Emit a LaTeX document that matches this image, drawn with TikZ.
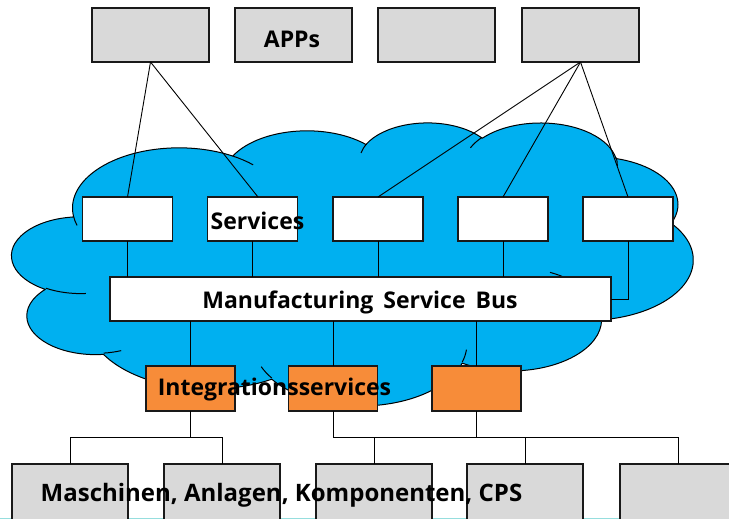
\documentclass[tikz,border=0pt]{standalone}
\usepackage{fontspec}
\setmainfont{Open Sans}
\usetikzlibrary{calc}

\definecolor{cloudblue}{RGB}{0,176,240}
\definecolor{boxgray}{RGB}{217,217,217}
\definecolor{boxorange}{RGB}{247,140,57}
\definecolor{edgeteal}{RGB}{150,222,222}

% one elliptic arc of the cloud outline: x radius, y radius,
% start angle and sweep (angles measured as seen, converted to parametric)
\newcommand\cloudarc[4]{%
  \pgfmathsetmacro\cAs{atan2((#1)*sin(#3),(#2)*cos(#3))}%
  \pgfmathsetmacro\cAe{atan2((#1)*sin((#3)+(#4)),(#2)*cos((#3)+(#4)))}%
  \pgfmathsetmacro\cAd{mod(\cAe-\cAs+720,360)}%
  \pgfmathsetmacro\cAe{\cAs+\cAd}%
  \pgfpatharcaxes{\cAs}{\cAe}{\pgfpointxy{#1}{0}}{\pgfpointxy{0}{#2}}%
}
\newcommand\cloudstub[6]{%
  \pgfpathmoveto{\pgfpointxy{#1}{#2}}\cloudarc{#3}{#4}{#5}{#6}\pgfusepath{stroke}%
}
% wider gaps between words
\newcommand\widewords{\spaceskip=10pt\relax}

\tikzset{
  box/.style={draw=black!90, line width=1.1pt, inner sep=0pt, outer sep=0pt},
  appbox/.style={box, fill=boxgray, minimum width=117pt, minimum height=54pt},
  servicebox/.style={box, fill=white, minimum width=90pt, minimum height=44pt},
  busbox/.style={box, fill=white, minimum width=501pt, minimum height=44pt},
  intbox/.style={box, fill=boxorange, minimum width=89pt, minimum height=45pt},
  devbox/.style={box, fill=boxgray, minimum width=116pt, minimum height=60pt},
  link/.style={draw=black, line width=0.9pt},
  lbl/.style={font=\bfseries\fontsize{23}{23}\selectfont, inner sep=0pt, outer sep=0pt, anchor=base},
  biglbl/.style={lbl, font=\bfseries\fontsize{24}{24}\selectfont}
}

\begin{document}
\begin{tikzpicture}[x=1pt, y=-1pt]
\useasboundingbox (0,0) rectangle (729,519);
\clip (0,0) rectangle (729,519);

% cloud
\begin{scope}[shift={(12,122)}, x=1.576389pt, y=-0.655093pt]
  \pgfsetlinewidth{1pt}
  \pgfsetroundjoin
  \pgfsetfillcolor{cloudblue}
  \pgfsetstrokecolor{black}
  \pgfpathmoveto{\pgfpointxy{39.00}{143.70}}
  \cloudarc{67.53}{91.90}{-190.48748}{123.78053}
  \cloudarc{53.33}{72.67}{-144.10238}{89.94523}
  \cloudarc{43.65}{59.45}{-145.80792}{99.72302}
  \cloudarc{48.57}{65.95}{-130.98607}{117.24173}
  \cloudarc{53.33}{72.73}{-78.70888}{109.02692}
  \cloudarc{67.75}{92.20}{-46.26725}{130.26900}
  \cloudarc{57.85}{78.67}{0.62502}{114.03333}
  \cloudarc{67.52}{92.15}{22.45160}{115.17255}
  \cloudarc{77.20}{105.43}{66.24263}{75.71102}
  \cloudarc{43.60}{59.18}{-274.94208}{146.73557}
  \cloudarc{43.45}{59.45}{-246.82850}{152.51885}
  \pgfpathclose
  \pgfusepath{fill,stroke}
  \cloudstub{46.93}{261.77}{43.45}{59.45}{86.74200}{26.42950}
  \cloudstub{69.28}{348.99}{43.60}{59.18}{73.61047}{11.44747}
  \cloudstub{164.78}{390.90}{67.52}{92.15}{137.62415}{14.08110}
  \cloudstub{288.27}{347.51}{67.53}{91.90}{6.45327}{15.99835}
  \cloudstub{341.29}{229.54}{57.85}{78.67}{-70.29235}{70.91737}
  \cloudstub{417.98}{153.54}{53.33}{72.73}{30.31803}{27.75150}
  \cloudstub{383.24}{54.26}{48.57}{65.95}{-13.74433}{14.85890}
  \cloudstub{290.78}{39.52}{48.57}{65.95}{-149.18145}{18.19537}
  \cloudstub{221.41}{47.20}{43.65}{59.45}{-163.49427}{17.68635}
  \cloudstub{140.00}{51.92}{67.53}{91.90}{-66.70695}{12.31935}
  \cloudstub{41.27}{157.89}{67.53}{91.90}{157.65435}{11.85817}
\end{scope}

% thin line along the lower edge
\coordinate (edgeL) at (0,518);
\coordinate (edgeR) at (729,518);
\draw[edgeteal, line width=1pt] (edgeL) -- (edgeR);

% apps
\node[appbox] (a1) at (150.5,35) {};
\node[appbox] (a2) at (293.5,35) {};
\node[appbox] (a3) at (436.5,35) {};
\node[appbox] (a4) at (580.5,35) {};

% services
\node[servicebox] (s1) at (127.5,219) {};
\node[servicebox] (s2) at (252.5,219) {};
\node[servicebox] (s3) at (378,219) {};
\node[servicebox] (s4) at (503,219) {};
\node[servicebox] (s5) at (628,219) {};

% service bus
\node[busbox] (bus) at (360.5,299) {};

% integration services
\node[intbox] (i1) at (190.5,388.5) {};
\node[intbox] (i2) at (333,388.5) {};
\node[intbox] (i3) at (476.5,388.5) {};

% machines and components
\node[devbox] (d1) at (70,494) {};
\node[devbox] (d2) at (222,494) {};
\node[devbox] (d3) at (374,494) {};
\node[devbox] (d4) at (525,494) {};
\node[devbox] (d5) at (678,494) {};

\coordinate (lowrail) at (0,437.5);

% apps to services
\draw[link] (a1.south) -- (s1.north);
\draw[link] (a1.south) -- ($(s2.north)+(5.5,0)$);
\draw[link] (a4.south) -- (s3.north);
\draw[link] (a4.south) -- (s4.north);
\draw[link] (a4.south) -- (s5.north);

% services to bus
\draw[link] (s1.south) -- (s1.south |- bus.north);
\draw[link] (s2.south) -- (s2.south |- bus.north);
\draw[link] (s3.south) -- (s3.south |- bus.north);
\draw[link] (s4.south) -- (s4.south |- bus.north);
\draw[link] (s5.south) |- (bus.east);

% bus to integration services
\draw[link] (i1.north |- bus.south) -- (i1.north);
\draw[link] (i2.north |- bus.south) -- (i2.north);
\draw[link] (i3.north |- bus.south) -- (i3.north);

% integration services to devices
\draw[link] (i1.south) -- (i1.south |- lowrail);
\draw[link] (d1.north) |- (d2.north |- lowrail) -- (d2.north);
\draw[link] (i2.south) |- (d5.north |- lowrail) -- (d5.north);
\draw[link] (i3.south) -- (i3.south |- lowrail);
\draw[link] (d3.north) -- (d3.north |- lowrail);
\draw[link] (d4.north) -- (d4.north |- lowrail);

% texts
\node[lbl] (tapps) at (292,47.7) {APPs};
\node[lbl] (tserv) at (257.5,229.3) {Services};
\node[lbl] (tbus) at (360,308.3) {\widewords Manufacturing Service Bus};
\node[lbl] (tint) at (274.5,395.7) {Integrationsservices};
\node[biglbl] (tdev) at (281.5,501.7) {Maschinen, Anlagen, Komponenten, CPS};
\end{tikzpicture}
\end{document}
